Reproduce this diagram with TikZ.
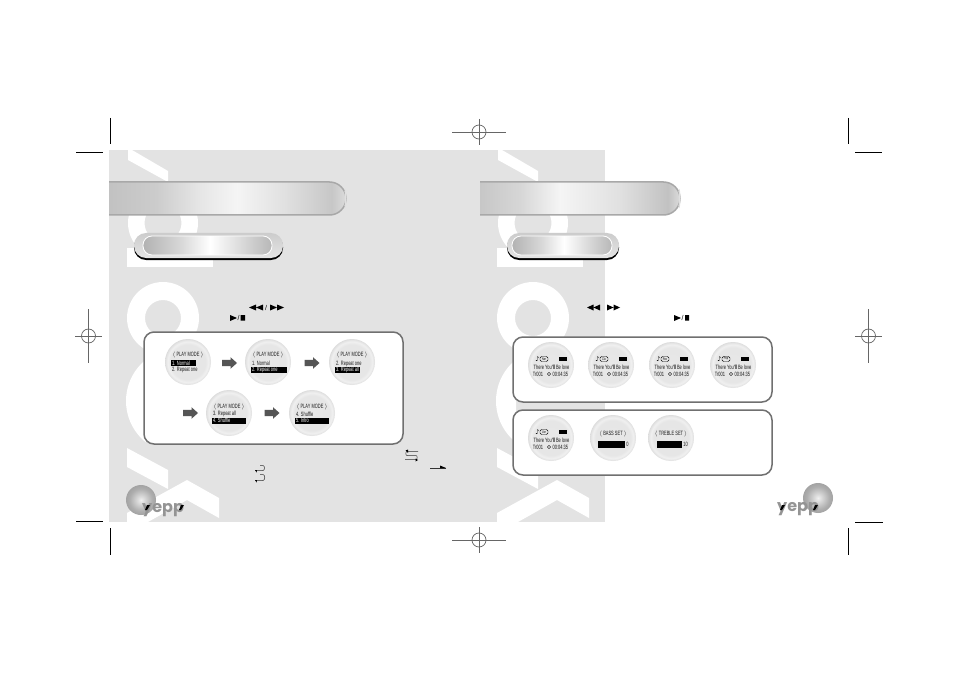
\documentclass[tikz,border=0pt]{standalone}
\usepackage{fontspec}
\setmainfont{Liberation Sans}
\newfontfamily\lcd[FakeStretch=0.64]{Liberation Sans}
\newfontfamily\sym{DejaVu Sans}
\newfontfamily\logofont{Poppins}
\definecolor{pagegray}{HTML}{E3E3E3}
\definecolor{rimgray}{HTML}{A8A8A8}
\definecolor{panelgray}{HTML}{707070}
\definecolor{markgray}{HTML}{666666}
\definecolor{arrowgray}{HTML}{555555}
\pgfdeclarehorizontalshading{barL}{100bp}{color(0bp)=(white!76!black);color(25bp)=(white!76!black);color(35bp)=(white!80!black);color(44bp)=(white!90!black);color(52bp)=(white!96!black);color(62bp)=(white!88!black);color(72bp)=(white!78!black);color(75bp)=(white!86!black);color(100bp)=(white!86!black)}
\pgfdeclarehorizontalshading{barR}{100bp}{color(0bp)=(white!78!black);color(25bp)=(white!78!black);color(35bp)=(white!84!black);color(45bp)=(white!96!black);color(60bp)=(white!88!black);color(72bp)=(white!76!black);color(75bp)=(white!86!black);color(100bp)=(white!86!black)}
\pgfdeclarehorizontalshading{pillin}{100bp}{color(0bp)=(white!70!black);color(25bp)=(white!70!black);color(40bp)=(white!85!black);color(51bp)=(white);color(66bp)=(white!82!black);color(75bp)=(white!72!black);color(100bp)=(white!72!black)}
\pgfdeclareradialshading{dial}{\pgfpoint{0bp}{0bp}}{color(0bp)=(white!91!black);color(19bp)=(white!90!black);color(22bp)=(white!94!black);color(24bp)=(white!90!black);color(25bp)=(white!86!black);color(50bp)=(white!86!black)}
\pgfdeclareradialshading{ball}{\pgfpointorigin}{color(0bp)=(white!94!black);color(7bp)=(white!84!black);color(19bp)=(white!68!black);color(25bp)=(white!64!black);color(50bp)=(white!64!black)}
\tikzset{
  x=1pt,y=-1pt,
  watermark/.style={fill=white,draw=none},
  dialnode/.style={circle,minimum size=#1,inner sep=0pt,shading=dial,draw=none},
  panelbox/.style={draw=panelgray,line width=1.5pt,fill=white,rounded corners=10pt},
  lcdtext/.style={font=\lcd\fontsize{6.2}{7}\selectfont,inner sep=0pt,anchor=west,text=black!90},
  lcdmid/.style={font=\lcd\fontsize{6.2}{7}\selectfont,inner sep=0pt,text=black!90},
  hilite/.style={fill=black,draw=none},
  hilitetext/.style={font=\lcd\fontsize{6.2}{7}\selectfont,inner sep=0pt,anchor=west,text=white},
  steparrow/.style={fill=arrowgray,draw=none},
  cropmark/.style={draw=black,line width=.9pt},
  regmark/.style={draw=markgray,line width=.7pt},
  icon/.style={fill=black,draw=none},
  thin icon/.style={draw=black!80,line width=.5pt},
  logotext/.style={font=\logofont\bfseries\fontsize{16}{16}\selectfont,text=black!42,inner sep=0pt,anchor=base west},
}
\newcommand{\wmark}[1]{%
\begin{scope}[xshift=#1pt]
  \path[watermark] (128,150)--(132,150)--(168,171)--(168,182)--(128,160)--cycle;
  \path[watermark,even odd rule] (163,223) circle[radius=35] (163,223) circle[radius=18.5];
  \path[watermark] (127,248) rectangle (213,267);
  \path[watermark,even odd rule] (163,318) circle[radius=36] (163,318) circle[radius=18];
  \begin{scope}
    \clip (120,355) rectangle (146,447);
    \path[watermark] (179,401) circle[radius=53];
  \end{scope}
  \path[watermark] (127,448)--(168,470)--(168,489)--(127,467)--cycle;
  \path[watermark] (127,513)--(187,480)--(219,498)--(219,518)--(187,500)--(148,522)--(127,522)--cycle;
\end{scope}}
\newcommand{\titlebar}[3]{%
  \shade[shading=#3] (#1,182) -- (#2-16.5,182) arc[start angle=-90,end angle=90,radius=16.5] -- (#1,215) -- cycle;
  \draw[draw=rimgray,line width=1.5pt] (#1,182) -- (#2-16.5,182) arc[start angle=-90,end angle=90,radius=16.5] -- (#1,215);
  \draw[draw=white!88!black,line width=1.4pt] (#2-1,192) to[out=80,in=-80] (#2-1,205);
}
\newcommand{\pillbar}[4]{%
  \fill[black,rounded corners=12pt] (#1,235) rectangle (#2,260);
  \shade[top color=white!80!black,bottom color=white!90!black,rounded corners=12pt] (#1,233) rectangle (#2,258);
  \shade[shading=pillin,draw=white,line width=.8pt,rounded corners=9pt] (#3,236) rectangle (#4,255);
}
\newcommand{\modedial}[9]{%
  \node[dialnode=46pt] (#1) at (#2,#3) {};
  \node[lcdmid] (#1t) at (#2,#3+#4) {$\langle$ PLAY MODE $\rangle$};
  \ifnum#8=1
    \path[hilite] (#2-17,#3+#5-3) rectangle (#2+#9,#3+#5+3);
    \node[hilitetext] (#1a) at (#2-16,#3+#5) {#6};
    \node[lcdtext] (#1b) at (#2-16,#3+#5+7) {#7};
  \else
    \path[hilite] (#2-17,#3+#5+3.7) rectangle (#2+#9,#3+#5+9.7);
    \node[lcdtext] (#1a) at (#2-16,#3+#5) {#6};
    \node[hilitetext] (#1b) at (#2-16,#3+#5+6.7) {#7};
  \fi
}
\newcommand{\musicdial}[4]{%
  \node[dialnode=46pt] (#1) at (#2,#3) {};
  \node[font=\sym\fontsize{6.5}{6.5}\selectfont,inner sep=0pt] (#1n) at (#2-13.5,#3-6) {♪};
  \draw[black,line width=.4pt,rounded corners=1.5pt] (#2-11,#3-8.5) rectangle (#2-3,#3-3.5);
  \node[font=\lcd\fontsize{3.8}{4}\selectfont,inner sep=0pt] (#1b) at (#2-7,#3-6) {#4};
  \path[hilite] (#2+8,#3-8) rectangle (#2+15.5,#3-4);
  \node[lcdmid] (#1l) at (#2+.5,#3+2) {There You{\bfseries'll} Be love};
  \node[lcdmid] (#1k) at (#2-13,#3+9) {Tr001};
  \draw[black,line width=.4pt] (#2-2,#3+9) circle[radius=1.7];
  \node[lcdtext] (#1c) at (#2+1.5,#3+9) {00:04:35};
}
\newcommand{\crosshair}[4]{%
  \draw[regmark] (#1-#3,#2) -- (#1+#3,#2) (#1,#2-#4) -- (#1,#2+#4);
  \draw[regmark] (#1,#2) circle[radius=7];
}
\newcommand{\steparrowat}[2]{%
  \path[steparrow] (#1-7.5,#2-3.2)--(#1+1,#2-3.2)--(#1+1,#2-5.8)--(#1+7.5,#2)--(#1+1,#2+5.8)--(#1+1,#2+3.2)--(#1-7.5,#2+3.2)--cycle;
}
\begin{document}
\begin{tikzpicture}
\useasboundingbox (0,0) rectangle (954,674);
\fill[white] (0,0) rectangle (954,674);
\fill[pagegray] (109,150) rectangle (605,522);
\wmark{0}
\wmark{370}
\draw[cropmark] (110,118)--(110,144) (76,152)--(103,152);
\draw[cropmark] (848,118)--(848,144) (855,152)--(882,152);
\draw[cropmark] (110,528)--(110,555) (76,521)--(103,521);
\draw[cropmark] (848,528)--(848,555) (855,522)--(883,522);
\crosshair{479}{132}{27}{13}
\crosshair{479}{540}{27}{13}
\crosshair{88.5}{336}{13.5}{27}
\crosshair{868.5}{336}{13.5}{27}
\titlebar{109}{346}{barL}
\titlebar{480}{680}{barR}
\pillbar{134}{283}{143}{272}
\pillbar{507}{619}{512}{612}
\path[icon] (256,304.5)--(249,307.5)--(256,310.5)--cycle (263,304.5)--(256,307.5)--(263,310.5)--cycle;
\node[font=\fontsize{7}{7}\selectfont,inner sep=0pt] (slashL) at (266,307.5) {/};
\path[icon] (270,304.5)--(277,307.5)--(270,310.5)--cycle (277,304.5)--(284,307.5)--(277,310.5)--cycle;
\path[icon] (230,315)--(237,318)--(230,321)--cycle (240.5,315) rectangle (245,320.5);
\node[font=\fontsize{7}{7}\selectfont,inner sep=0pt] (slashP) at (238.5,318) {/};
\path[icon] (593.5,304.5)--(587,307.5)--(593.5,310.5)--cycle (600,304.5)--(593.5,307.5)--(600,310.5)--cycle;
\path[icon] (607,304.5)--(613.5,307.5)--(607,310.5)--cycle (613.5,304.5)--(620,307.5)--(613.5,310.5)--cycle;
\path[icon] (674,315)--(681,318)--(674,321)--cycle (685,315) rectangle (689,320.5);
\node[font=\fontsize{7}{7}\selectfont,inner sep=0pt] (slashQ) at (682.5,318) {/};
\draw[panelbox] (144,332) rectangle (403,444);
\modedial{m1}{188}{362}{-7}{1}{1. Normal}{2. Repeat one}{1}{8}
\modedial{m2}{268}{362}{-7}{1.5}{1. Normal}{2. Repeat one}{2}{19}
\modedial{m3}{352}{362}{-7}{1.5}{2. Repeat one}{3. Repeat all}{2}{8}
\modedial{m4}{229}{413}{-6}{1}{3. Repeat all}{4. Shuffle}{2}{17}
\modedial{m5}{312}{413}{-6}{1}{4. Shuffle}{5. Intro}{2}{17}
\steparrowat{229.5}{363}
\steparrowat{312}{363}
\steparrowat{190.5}{413}
\steparrowat{272}{413}
\draw[panelbox] (513,337) rectangle (772,402);
\draw[panelbox] (513,410) rectangle (772,475);
\musicdial{d1}{551}{365}{Nor}
\musicdial{d2}{611}{365}{Cla}
\musicdial{d3}{672}{365}{Roc}
\musicdial{d4}{733}{365}{Pop}
\musicdial{d5}{551}{438}{Usr}
\node[dialnode=46pt] (d6) at (613,438) {};
\node[lcdmid] (d6t) at (613,434) {$\langle$ BASS SET $\rangle$};
\path[hilite] (598,441) rectangle (625,448);
\node[lcdmid] (d6v) at (627.5,444.5) {0};
\node[dialnode=46pt] (d7) at (671,438) {};
\node[lcdmid] (d7t) at (671,434) {$\langle$ TREBLE SET $\rangle$};
\path[hilite] (657,441) rectangle (682,448);
\node[lcdmid] (d7v) at (685.5,444.5) {10};
\draw[thin icon] (418,451.5)--(407,451.5) to[out=180,in=180] (407,455.5)--(416,455.5) to[out=0,in=0] (416,459.5)--(405,459.5);
\path[icon] (405.5,450.5)--(408,449.5)--(408,453)--cycle (418,460)--(415.5,458.5)--(415.5,461.5)--cycle;
\draw[thin icon] (430,468)--(446,468);
\path[icon] (440,465.5)--(446,468)--(440,468)--cycle;
\draw[thin icon] (255,470.5)--(263,470.5) to[out=0,in=0] (263,465.5)--(260,465.5);
\draw[thin icon] (255,480.5)--(263,480.5) to[out=0,in=0] (263,474.5)--(260,474.5);
\path[icon] (255,470)--(257,470)--(256.5,472.5)--cycle (255,480)--(257,480)--(256.5,482.5)--cycle;
\shade[shading=ball] (141,500) circle[radius=15];
\shade[shading=ball] (818,498) circle[radius=15];
\node[logotext] (logoL) at (142,512) {yepp};
\node[logotext] (logoR) at (777,511) {yepp};
\path[icon] (181,505)--(184,505)--(181,510)--(179,510)--cycle (147,505)--(150,505)--(147,510)--(145,510)--cycle;
\path[icon] (815,505)--(818,505)--(815,510)--(813,510)--cycle (782,505)--(785,505)--(782,510)--(780,510)--cycle;
\end{tikzpicture}
\end{document}
